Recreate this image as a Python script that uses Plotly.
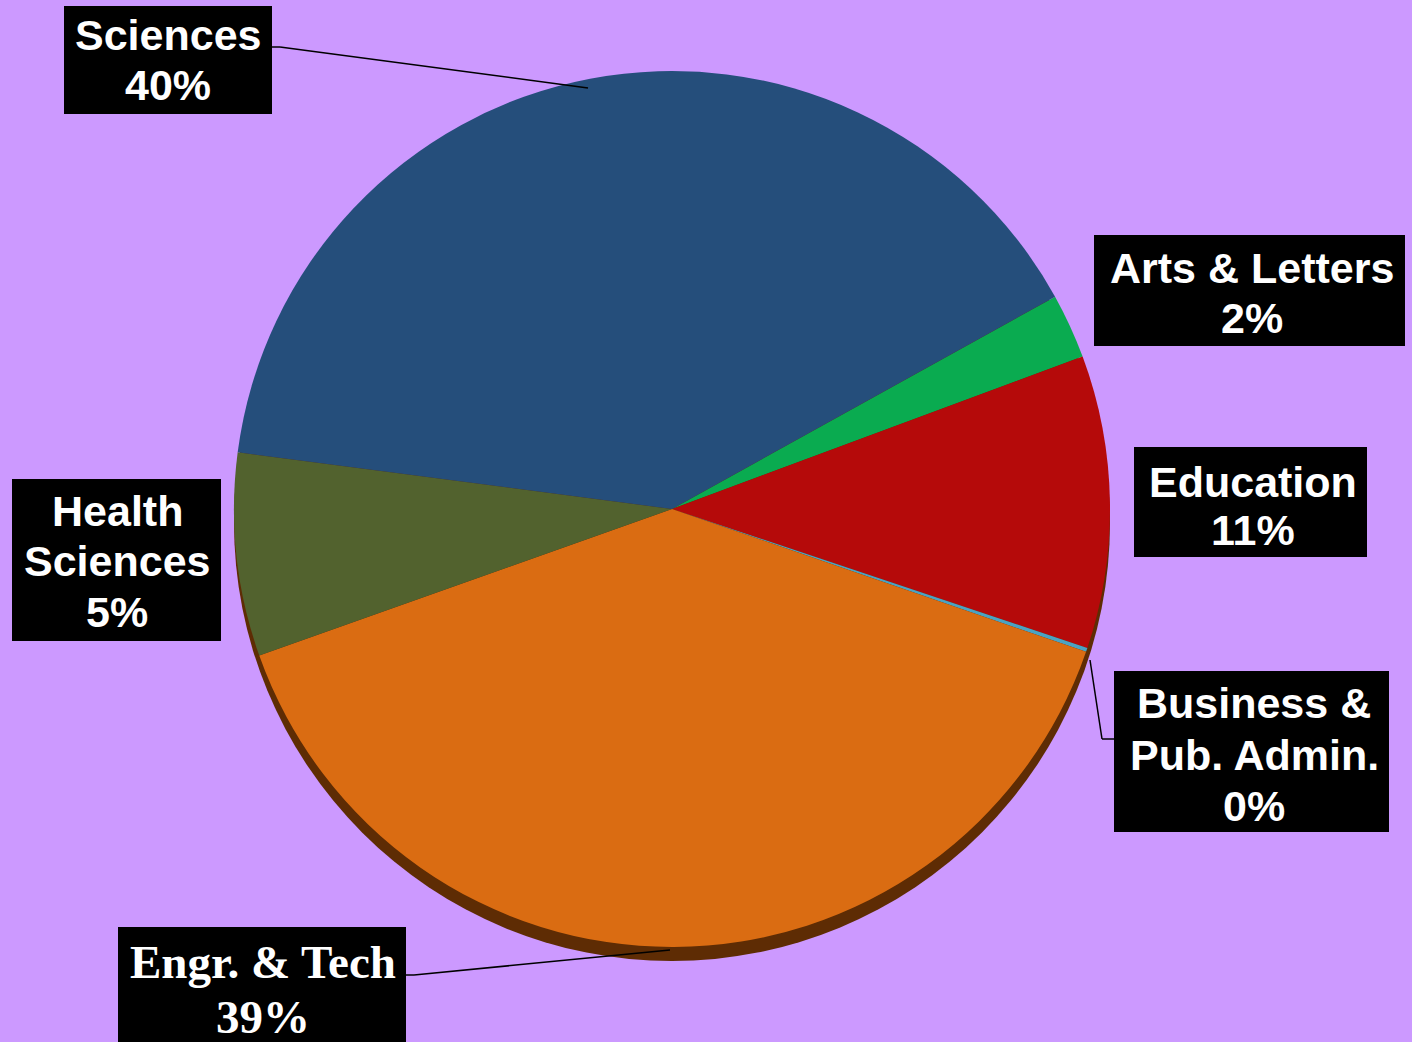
import plotly.graph_objects as go

W, H = 1412, 1042

# Slices in clockwise order starting from the Sciences / Arts boundary
categories = ["Arts & Letters", "Education", "Business & Pub. Admin.", "Engr. & Tech", "Health Sciences", "Sciences"]
values = [2.4, 10.8, 0.15, 39.3, 7.5, 39.9]
pct_labels = ["2%", "11%", "0%", "39%", "5%", "40%"]
label_lines = [
    ["Arts & Letters"],
    ["Education"],
    ["Business &", "Pub. Admin."],
    ["Engr. & Tech"],
    ["Health", "Sciences"],
    ["Sciences"],
]
colors = ["#0AAB50", "#B50A0A", "#4BA3C3", "#DA6C12", "#52622E", "#254E7B"]


def px(x):
    return x / W


def py(y):
    return 1 - y / H


cx, cy, r = 672, 509, 438
shadow = 14

fig = go.Figure()
# darker rim underneath for the 3D edge
fig.add_trace(go.Pie(
    values=[1], labels=["rim"], marker=dict(colors=["#5E2C04"], line=dict(width=0)),
    textinfo="none", hoverinfo="skip", showlegend=False, sort=False,
    domain=dict(x=[px(cx - r), px(cx + r)], y=[py(cy + r + shadow), py(cy - r + shadow)]),
))
fig.add_trace(go.Pie(
    values=values, labels=categories, marker=dict(colors=colors, line=dict(width=0)),
    textinfo="none", sort=False, direction="clockwise", rotation=61, showlegend=False,
    domain=dict(x=[px(cx - r), px(cx + r)], y=[py(cy + r), py(cy - r)]),
))

# label boxes: (category index, x0, y0, x1, y1, centre x, line centres, font family, size)
boxes = [
    (0, 1094, 235, 1405, 346, 1252, [268, 318], "Liberation Sans", 43),
    (1, 1134, 447, 1367, 557, 1253, [482, 530], "Liberation Sans", 43),
    (2, 1114, 671, 1389, 832, 1254, [703, 755, 806], "Liberation Sans", 43),
    (3, 118, 927, 406, 1060, 263, [962, 1017], "Liberation Serif", 47),
    (4, 12, 479, 221, 641, 117, [511, 561, 612], "Liberation Sans", 43),
    (5, 64, 6, 272, 114, 168, [35, 85], "Liberation Sans", 43),
]
for i, x0, y0, x1, y1, tx, ys, fam, size in boxes:
    fig.add_shape(type="rect", xref="paper", yref="paper",
                  x0=px(x0), y0=py(y0), x1=px(x1), y1=py(y1),
                  fillcolor="black", line=dict(width=0), layer="above")
    lines = label_lines[i] + [pct_labels[i]]
    for txt, ly in zip(lines, ys):
        fig.add_annotation(
            x=px(tx), y=py(ly), xref="paper", yref="paper", xanchor="center", yanchor="middle",
            text=f"<b>{txt}</b>", showarrow=False,
            font=dict(family=fam, size=size, color="white"),
            borderwidth=0, borderpad=0,
        )

# leader lines
leaders = [
    [(272, 47), (280, 47), (588, 88)],
    [(406, 975), (414, 975), (670, 950)],
    [(1114, 739), (1102, 739), (1090, 660)],
]
for pts in leaders:
    for (x0, y0), (x1, y1) in zip(pts[:-1], pts[1:]):
        fig.add_shape(type="line", xref="paper", yref="paper",
                      x0=px(x0), y0=py(y0), x1=px(x1), y1=py(y1),
                      line=dict(color="black", width=1.5))

fig.update_layout(
    width=W, height=H, margin=dict(l=0, r=0, t=0, b=0),
    paper_bgcolor="#CC99FF", plot_bgcolor="#CC99FF", showlegend=False,
)
fig.write_html("out.html", config={"displayModeBar": False},
               post_script="document.body.style.margin='0';")
